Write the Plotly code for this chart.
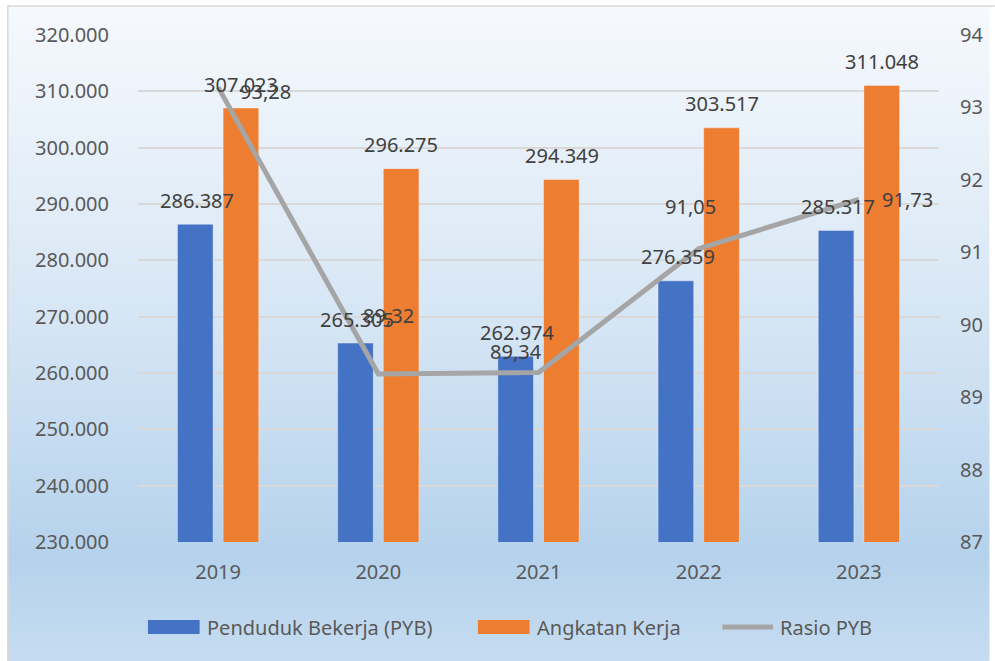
import base64
import plotly.graph_objects as go

years = ["2019", "2020", "2021", "2022", "2023"]
penduduk_bekerja = [286387, 265305, 262974, 276359, 285317]
angkatan_kerja = [307023, 296275, 294349, 303517, 311048]
rasio_pyb = [93.28, 89.32, 89.34, 91.05, 91.73]

left_ticks = [230000, 240000, 250000, 260000, 270000, 280000, 290000, 300000, 310000, 320000]
right_ticks = [87, 88, 89, 90, 91, 92, 93, 94]

BLUE = "#4472c4"
ORANGE = "#ed7d31"
GRAY = "#a5a5a5"
FONT = "Noto Sans"

W, H = 995, 661
L, R, T, B = 138, 944, 35, 542  # plot area in pixels


def px(x):
    return (x - L) / (R - L)


def py(y):
    return (B - y) / (B - T)


fig = go.Figure()
fig.add_trace(go.Bar(x=years, y=penduduk_bekerja, name="Penduduk Bekerja (PYB)",
                     marker=dict(color=BLUE, line=dict(color="rgba(255,255,255,0.35)", width=1)),
                     showlegend=False, hoverinfo="skip"))
fig.add_trace(go.Bar(x=years, y=angkatan_kerja, name="Angkatan Kerja",
                     marker=dict(color=ORANGE, line=dict(color="rgba(255,255,255,0.35)", width=1)),
                     showlegend=False, hoverinfo="skip"))
fig.add_trace(go.Scatter(x=years, y=rasio_pyb, name="Rasio PYB", yaxis="y2", mode="lines",
                         line=dict(color=GRAY, width=5), showlegend=False, hoverinfo="skip"))

annotations = []
lab_font = dict(family=FONT, size=20, color="#404040")
for i, v in enumerate(penduduk_bekerja):
    annotations.append(dict(x=i, y=v, xref="x", yref="y", text=f"{v:,}".replace(",", "."),
                            showarrow=False, xshift=-21, yshift=24, yanchor="middle", font=lab_font))
for i, v in enumerate(angkatan_kerja):
    annotations.append(dict(x=i, y=v, xref="x", yref="y", text=f"{v:,}".replace(",", "."),
                            showarrow=False, xshift=23, yshift=24, yanchor="middle", font=lab_font))
ratio_offsets = [(47, -4), (10, 58), (-23, 21), (-8, 42), (49, 0)]
for i, (v, (dx, dy)) in enumerate(zip(rasio_pyb, ratio_offsets)):
    annotations.append(dict(x=i, y=v, xref="x", yref="y2", text=f"{v:.2f}".replace(".", ","),
                            showarrow=False, xshift=dx, yshift=dy, yanchor="middle", font=lab_font))

# custom legend
legend_y = 627
shapes = []
shapes.append(dict(type="rect", xref="paper", yref="paper", x0=px(148), x1=px(200),
                   y0=py(634), y1=py(620), fillcolor=BLUE, line=dict(width=0)))
shapes.append(dict(type="rect", xref="paper", yref="paper", x0=px(480), x1=px(532),
                   y0=py(634), y1=py(620), fillcolor=ORANGE, line=dict(width=0)))
shapes.append(dict(type="line", xref="paper", yref="paper", x0=px(726), x1=px(777),
                   y0=py(legend_y), y1=py(legend_y), line=dict(color=GRAY, width=5)))
# outer border
shapes.append(dict(type="rect", xref="paper", yref="paper", x0=px(7), x1=px(1010),
                   y0=py(680), y1=py(6), line=dict(color="#d9d9d9", width=1.5), layer="below"))
for text, x0 in [("Penduduk Bekerja (PYB)", 205), ("Angkatan Kerja", 537), ("Rasio PYB", 782)]:
    annotations.append(dict(x=px(x0), y=py(legend_y), xref="paper", yref="paper", text=text,
                            showarrow=False, xanchor="left", yanchor="middle",
                            font=dict(family=FONT, size=20, color="#595959")))

svg = f'''<svg xmlns="http://www.w3.org/2000/svg" width="{W}" height="{H}" viewBox="0 0 100 100" preserveAspectRatio="none">
<defs><linearGradient id="g" x1="0" y1="0" x2="0" y2="1">
<stop offset="0" stop-color="#f6f9fd"/>
<stop offset="0.45" stop-color="#d8e7f5"/>
<stop offset="0.84" stop-color="#b5d2ec"/>
<stop offset="1" stop-color="#c6dcf0"/>
</linearGradient></defs>
<rect x="0" y="0" width="100" height="100" fill="url(#g)"/></svg>'''
uri = "data:image/svg+xml;base64," + base64.b64encode(svg.encode()).decode()

fig.update_layout(
    width=W, height=H,
    margin=dict(l=L, r=W - R, t=T, b=H - B),
    paper_bgcolor="white",
    plot_bgcolor="rgba(0,0,0,0)",
    separators=",.",
    barmode="group",
    bargap=0.43,
    bargroupgap=0.22,
    showlegend=False,
    font=dict(family=FONT, size=20, color="#595959"),
    xaxis=dict(type="category", range=[-0.5, len(years) - 0.5], showgrid=False, showline=False,
               zeroline=False, ticks="", ticklabelstandoff=16,
               tickfont=dict(family=FONT, size=20, color="#595959")),
    yaxis=dict(range=[230000, 320000], tickvals=left_ticks, tickformat=",d",
               showgrid=True, gridcolor="#d9d9d9", gridwidth=1.5, zeroline=False, showline=False,
               ticks="", ticklabelstandoff=28,
               tickfont=dict(family=FONT, size=20, color="#595959")),
    yaxis2=dict(range=[87, 94], tickvals=right_ticks, overlaying="y", side="right",
                showgrid=False, zeroline=False, showline=False, ticks="", ticklabelstandoff=20,
                tickfont=dict(family=FONT, size=20, color="#595959")),
    annotations=annotations,
    shapes=shapes,
    images=[dict(source=uri, xref="paper", yref="paper", x=px(7), y=py(6),
                 sizex=(W - 7) / (R - L), sizey=(H - 6) / (B - T),
                 xanchor="left", yanchor="top", sizing="stretch", layer="below")],
)

fig.write_html("out.html", config={"displayModeBar": False},
               post_script="document.body.style.margin='0';document.body.style.overflow='hidden';")
